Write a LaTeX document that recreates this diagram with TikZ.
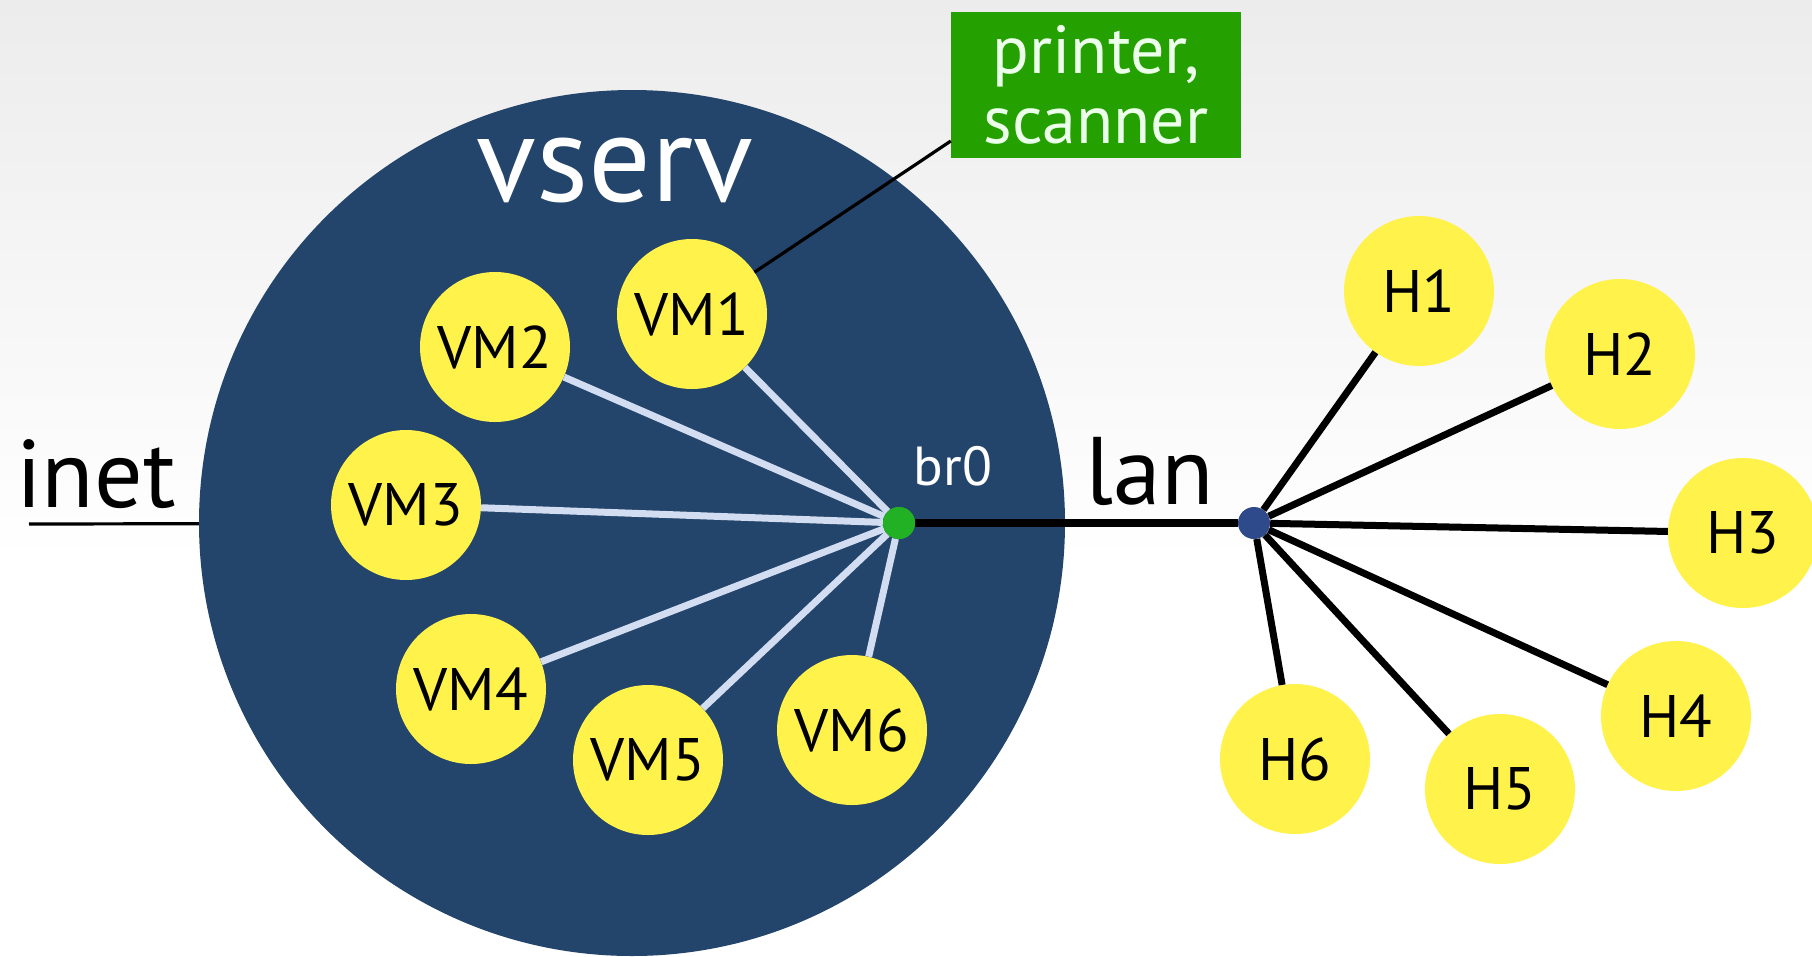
\documentclass[tikz,border=0pt]{standalone}
\usepackage{fontspec}
\setmainfont{PT Sans}
\usetikzlibrary{calc}
\definecolor{bgtop}{HTML}{ECECEC}
\definecolor{hostblue}{HTML}{23446B}
\definecolor{vmyellow}{HTML}{FFF24A}
\definecolor{boxgreen}{HTML}{24A000}
\definecolor{brgreen}{HTML}{22B024}
\definecolor{landot}{HTML}{2E4A8A}
\definecolor{vlink}{HTML}{D3DDF2}
\newcommand{\fsz}[1]{\fontsize{#1}{#1}\selectfont}
\tikzset{
  machine/.style={circle, fill=vmyellow, minimum size=150pt, inner sep=0pt, text=black, font=\fsz{60}},
  vlinkline/.style={vlink, line width=7pt},
  lanline/.style={black, line width=7pt},
  thinline/.style={black, line width=3.2pt},
  bigtext/.style={font=\fsz{#1}, inner sep=0pt},
}
\begin{document}
\begin{tikzpicture}[x=1pt, y=-1pt]
  \useasboundingbox (0,0) rectangle (1812,956);
  \clip (0,0) rectangle (1812,956);
  % backdrop: soft grey fading to white
  \shade[top color=bgtop, bottom color=white] (0,0) rectangle (1812,560);
  \fill[white] (0,560) rectangle (1812,956);

  % the virtual server
  \node[circle, fill=hostblue, minimum size=866pt, inner sep=0pt] (host) at (632,523) {};
  \node[bigtext=124, text=white] (vservlbl) at (615,170) {vserv};

  % bridge and lan switch
  \node[circle, fill=brgreen, minimum size=32pt, inner sep=0pt] (br0) at (899,523) {};
  \node[bigtext=55, text=white] (br0lbl) at (953,466) {br0};
  \node[circle, fill=landot, minimum size=32pt, inner sep=0pt] (lan) at (1254,523) {};
  \node[bigtext=96, text=black] (lanlbl) at (1150,471) {lan};

  % uplink
  \node[bigtext=96, text=black] (inetlbl) at (96,474) {inet};
  \coordinate (inetend) at (29,524);

  % printer / scanner box
  \node[fill=boxgreen, text=white!92!green, minimum width=290pt, minimum height=146pt,
        inner sep=0pt, align=center, font=\fontsize{68}{70}\selectfont] (pbox) at (1096,85) {printer,\\scanner};
  \coordinate (pin) at ($(pbox.west)+(0,56)$);

  % virtual machines
  \node[machine] (VM1) at (692,314) {VM1};
  \node[machine] (VM2) at (495,347) {VM2};
  \node[machine] (VM3) at (406,505) {VM3};
  \node[machine] (VM4) at (471,689) {VM4};
  \node[machine] (VM5) at (648,760) {VM5};
  \node[machine] (VM6) at (852,730) {VM6};

  % hosts on the lan
  \node[machine] (H1) at (1419,291) {H1};
  \node[machine] (H2) at (1620,354) {H2};
  \node[machine] (H3) at (1743,533) {H3};
  \node[machine] (H4) at (1676,716) {H4};
  \node[machine] (H5) at (1500,789) {H5};
  \node[machine] (H6) at (1295,759) {H6};

  % links
  \draw[thinline] (inetend) -- (host);
  \draw[thinline] (VM1) -- (pin);
  \foreach \v in {VM1,VM2,VM3,VM4,VM5,VM6} \draw[vlinkline] (\v) -- (br0);
  \draw[lanline, line width=8pt] (br0) -- (lan);
  \foreach \h in {H1,H2,H3,H4,H5,H6} \draw[lanline] (lan) -- (\h);

  % dots on top of the link ends
  \fill[brgreen] (br0.center) circle (16pt);
  \fill[landot] (lan.center) circle (15pt);
\end{tikzpicture}
\end{document}
